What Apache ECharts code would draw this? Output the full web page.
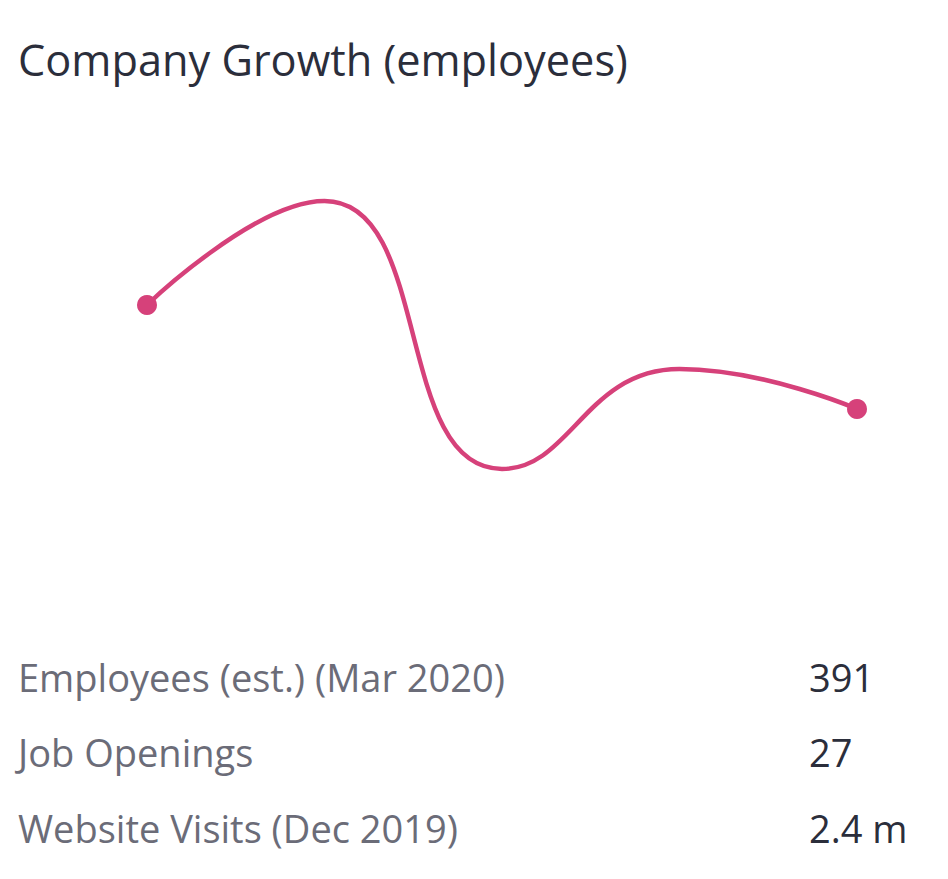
<!DOCTYPE html>
<html>
<head>
<meta charset="utf-8">
<style>
html,body{margin:0;padding:0;background:#fff;}
#c{width:948px;height:879px;}
</style>
<script src="https://cdn.jsdelivr.net/npm/echarts@6/dist/echarts.min.js"></script>
</head>
<body>
<div id="c"></div>
<script>
const titleText = 'Company Growth (employees)';
const periods = ['P1', 'P2', 'P3', 'P4', 'Mar 2020'];
const employees = [417, 443, 376, 401, 391];
const statLabels = ['Employees (est.) (Mar 2020)', 'Job Openings', 'Website Visits (Dec 2019)'];
const statValues = ['391', '27', '2.4 m'];

const chart = echarts.init(document.getElementById('c'), null, {renderer: 'svg'});
const last = employees.length - 1;
const font = '"Open Sans", "Noto Sans", sans-serif';
const graphics = [{
  type: 'text', left: 18, top: 38,
  style: {text: titleText, font: '400 43.3px ' + font, fill: '#2b2e3b'}
}];
const rowTops = [658, 733, 809];
statLabels.forEach((t, i) => {
  graphics.push({type: 'text', left: 18, top: rowTops[i],
    style: {text: t, font: '400 38px ' + font, fill: '#6b6c78'}});
  graphics.push({type: 'text', left: 809, top: rowTops[i],
    style: {text: statValues[i], font: '400 38px ' + font, fill: '#2b2e3b'}});
});
chart.setOption({
  animation: false,
  grid: {left: 147, right: 91, top: 109, bottom: 270},
  xAxis: {type: 'category', data: periods, boundaryGap: false, show: false},
  yAxis: {type: 'value', min: 341, max: 466, show: false},
  series: [{
    type: 'line',
    smooth: true,
    data: employees.map((v, i) => ({value: v, symbol: (i === 0 || i === last) ? 'circle' : 'none'})),
    symbolSize: 20,
    lineStyle: {color: '#d6417a', width: 4.5},
    itemStyle: {color: '#d6417a'}
  }],
  graphic: graphics
});
</script>
</body>
</html>
